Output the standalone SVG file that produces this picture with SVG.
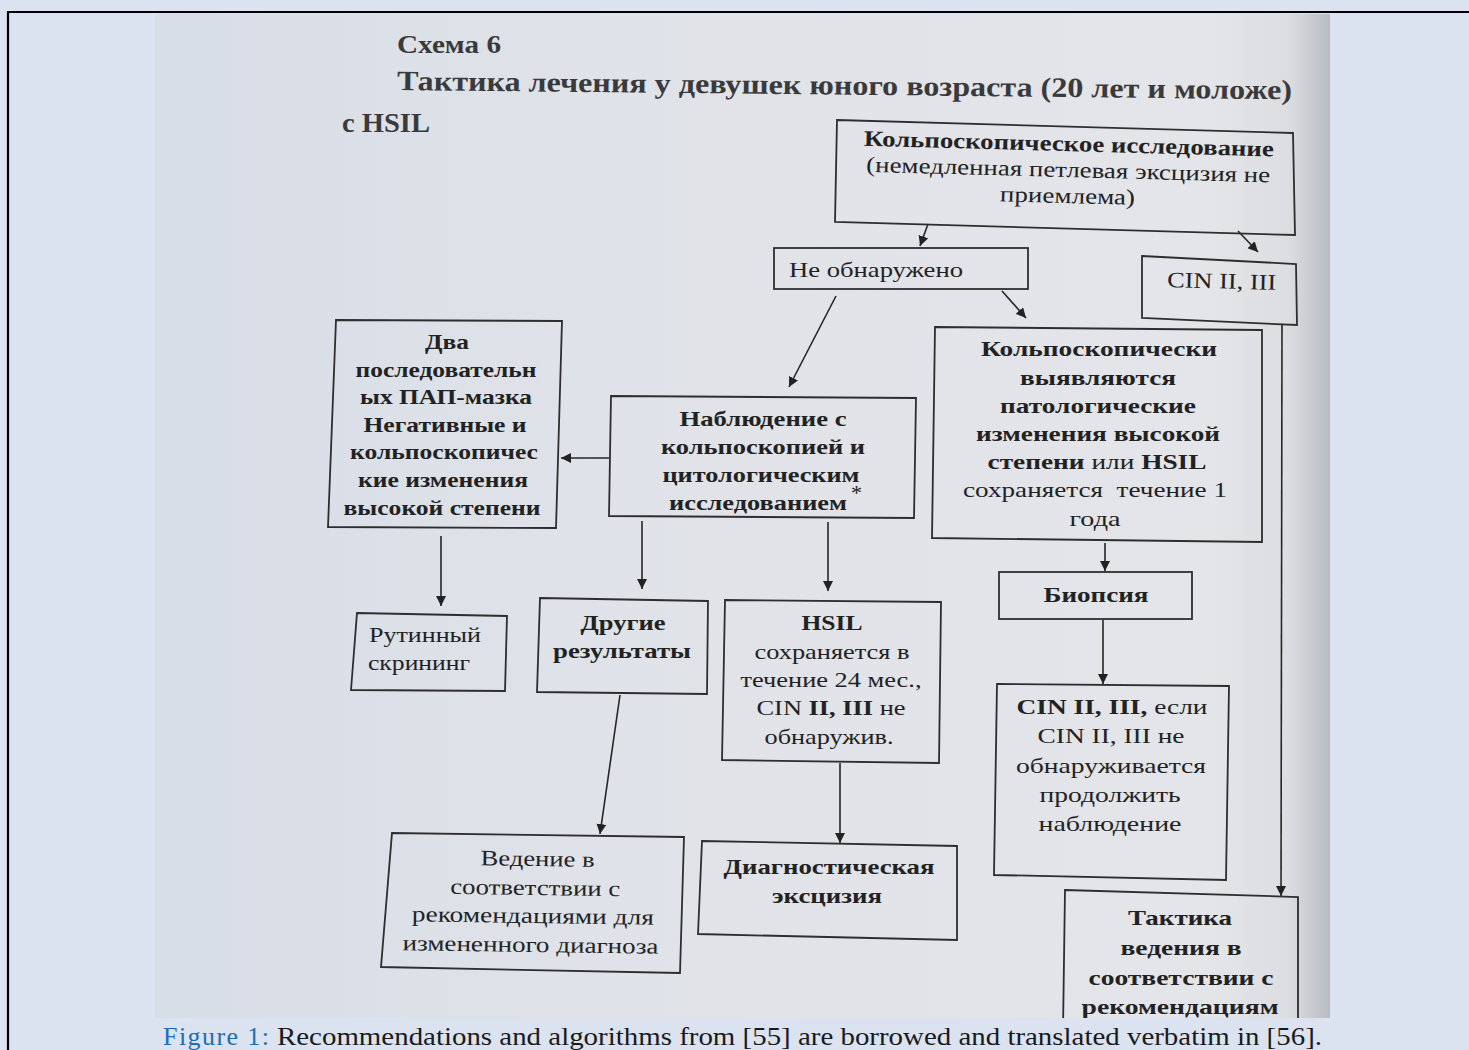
<svg xmlns="http://www.w3.org/2000/svg" width="1469" height="1050" viewBox="0 0 1469 1050">
<defs>
<linearGradient id="pg" x1="0" y1="0" x2="1" y2="0">
<stop offset="0" stop-color="#d7dde7"/>
<stop offset="0.35" stop-color="#dfe2e8"/>
<stop offset="0.9" stop-color="#e4e5e9"/>
<stop offset="0.965" stop-color="#dcdde1"/>
<stop offset="1" stop-color="#b9bcc3"/>
</linearGradient>
<clipPath id="pc"><rect x="155" y="14" width="1175" height="1004"/></clipPath>
<marker id="ah" viewBox="0 0 10 10" refX="10" refY="5" markerWidth="10" markerHeight="10" markerUnits="userSpaceOnUse" orient="auto">
<path d="M0,0 L10,5 L0,10 z" fill="#222"/>
</marker>
<style>
.bx{fill:none;stroke:#2e2e2e;stroke-width:1.8}
.cn{stroke:#262626;stroke-width:1.6;fill:none;marker-end:url(#ah)}
.t{font-family:"Liberation Serif","Times New Roman",serif;fill:#222;font-size:22px}
.b{font-weight:bold}
.c{text-anchor:middle}
.h{font-family:"Liberation Serif","Times New Roman",serif;fill:#3a3a3a;font-weight:bold}
</style>
</defs>
<rect width="1469" height="1050" fill="#dbe3f0"/>
<path d="M8,1050 L8,12 L1469,12" fill="none" stroke="#000" stroke-width="2.2"/>
<rect x="155" y="14" width="1175" height="1004" fill="url(#pg)"/>
<g clip-path="url(#pc)">
<text class="h" x="397" y="53" font-size="26" textLength="104" lengthAdjust="spacingAndGlyphs">Схема 6</text>
<text class="h" x="397" y="90" font-size="28" textLength="895" lengthAdjust="spacingAndGlyphs" transform="rotate(0.6 397 90)">Тактика лечения у девушек юного возраста (20 лет и моложе)</text>
<text class="h" x="342" y="132" font-size="27" textLength="88" lengthAdjust="spacingAndGlyphs">с HSIL</text>

<g id="connectors">
<line class="cn" x1="928" y1="224" x2="920" y2="246"/>
<line class="cn" x1="1238" y1="231" x2="1258" y2="252"/>
<line class="cn" x1="836" y1="296" x2="789" y2="387"/>
<line class="cn" x1="1002" y1="291" x2="1026" y2="318"/>
<line class="cn" x1="609" y1="458" x2="561" y2="458"/>
<line class="cn" x1="441" y1="536" x2="441" y2="606"/>
<line class="cn" x1="642" y1="521" x2="642" y2="589"/>
<line class="cn" x1="828" y1="522" x2="828" y2="591"/>
<line class="cn" x1="1105" y1="543" x2="1105" y2="571"/>
<line class="cn" x1="1103" y1="620" x2="1103" y2="684"/>
<line class="cn" x1="1282" y1="325" x2="1281" y2="896"/>
<line class="cn" x1="620" y1="695" x2="600" y2="834"/>
<line class="cn" x1="840" y1="763" x2="840" y2="843"/>
</g>

<g id="n-colposcopy">
<polygon class="bx" points="837,120 1293,133 1295,235 835,222"/>
<g transform="rotate(1.5 1066 178)">
<text class="t b c" x="1068" y="151" textLength="410" lengthAdjust="spacingAndGlyphs">Кольпоскопическое исследование</text>
<text class="t c" x="1068" y="177" textLength="404" lengthAdjust="spacingAndGlyphs">(немедленная петлевая эксцизия не</text>
<text class="t c" x="1068" y="203" textLength="135" lengthAdjust="spacingAndGlyphs">приемлема)</text>
</g>
</g>

<g id="n-not-found">
<rect class="bx" x="774" y="248" width="254" height="41"/>
<text class="t" x="789" y="277" textLength="174" lengthAdjust="spacingAndGlyphs">Не обнаружено</text>
</g>

<g id="n-cin">
<polygon class="bx" points="1142,256 1296,264 1297,325 1142,318"/>
<text class="t" x="1167" y="287" transform="rotate(1.5 1167 287)" textLength="109" lengthAdjust="spacingAndGlyphs">CIN II, III</text>
</g>

<g id="n-two-pap">
<polygon class="bx" points="336,320 562,321 556,528 328,527"/>
<text class="t b c" x="447" y="349" font-size="20" textLength="44" lengthAdjust="spacingAndGlyphs">Два</text>
<text class="t b c" x="446" y="377" font-size="20" textLength="181" lengthAdjust="spacingAndGlyphs">последовательн</text>
<text class="t b c" x="446" y="404" font-size="20" textLength="172" lengthAdjust="spacingAndGlyphs">ых ПАП-мазка</text>
<text class="t b c" x="445" y="432" font-size="20" textLength="163" lengthAdjust="spacingAndGlyphs">Негативные и</text>
<text class="t b c" x="444" y="459" font-size="20" textLength="188" lengthAdjust="spacingAndGlyphs">кольпоскопичес</text>
<text class="t b c" x="443" y="487" font-size="20" textLength="170" lengthAdjust="spacingAndGlyphs">кие изменения</text>
<text class="t b c" x="442" y="515" font-size="20" textLength="197" lengthAdjust="spacingAndGlyphs">высокой степени</text>
</g>

<g id="n-observation">
<polygon class="bx" points="611,396 916,398 914,518 609,516"/>
<text class="t b c" x="763" y="426" font-size="21" textLength="167" lengthAdjust="spacingAndGlyphs">Наблюдение с</text>
<text class="t b c" x="763" y="454" font-size="21" textLength="204" lengthAdjust="spacingAndGlyphs">кольпоскопией и</text>
<text class="t b c" x="761" y="482" font-size="21" textLength="197" lengthAdjust="spacingAndGlyphs">цитологическим</text>
<text class="t b c" x="758" y="510" font-size="21" textLength="178" lengthAdjust="spacingAndGlyphs">исследованием</text>
<text class="t" x="851" y="500" font-size="12">*</text>
</g>

<g id="n-colpo-high">
<polygon class="bx" points="935,327 1262,330 1262,542 932,538"/>
<text class="t b c" x="1099" y="356" textLength="236" lengthAdjust="spacingAndGlyphs">Кольпоскопически</text>
<text class="t b c" x="1098" y="385" textLength="156" lengthAdjust="spacingAndGlyphs">выявляются</text>
<text class="t b c" x="1098" y="413" textLength="196" lengthAdjust="spacingAndGlyphs">патологические</text>
<text class="t b c" x="1098" y="441" textLength="244" lengthAdjust="spacingAndGlyphs">изменения высокой</text>
<text class="t c" x="1097" y="469" textLength="219" lengthAdjust="spacingAndGlyphs"><tspan class="b">степени</tspan> или <tspan class="b">HSIL</tspan></text>
<text class="t c" x="1095" y="497" xml:space="preserve" textLength="264" lengthAdjust="spacingAndGlyphs">сохраняется  течение 1</text>
<text class="t c" x="1095" y="526" textLength="51" lengthAdjust="spacingAndGlyphs">года</text>
</g>

<g id="n-biopsy">
<rect class="bx" x="999" y="572" width="193" height="47"/>
<text class="t b c" x="1096" y="602" textLength="105" lengthAdjust="spacingAndGlyphs">Биопсия</text>
</g>

<g id="n-routine">
<polygon class="bx" points="357,613 507,616 505,691 351,690"/>
<text class="t" x="369" y="642" font-size="21" textLength="112" lengthAdjust="spacingAndGlyphs">Рутинный</text>
<text class="t" x="368" y="670" font-size="21" textLength="102" lengthAdjust="spacingAndGlyphs">скрининг</text>
</g>

<g id="n-other">
<polygon class="bx" points="540,598 708,601 707,694 537,692"/>
<text class="t b c" x="623" y="630" textLength="85" lengthAdjust="spacingAndGlyphs">Другие</text>
<text class="t b c" x="622" y="658" textLength="138" lengthAdjust="spacingAndGlyphs">результаты</text>
</g>

<g id="n-hsil">
<polygon class="bx" points="725,600 941,602 939,763 722,760"/>
<text class="t b c" x="832" y="630" textLength="61" lengthAdjust="spacingAndGlyphs">HSIL</text>
<text class="t c" x="832" y="659" textLength="155" lengthAdjust="spacingAndGlyphs">сохраняется в</text>
<text class="t c" x="831" y="687" textLength="181" lengthAdjust="spacingAndGlyphs">течение 24 мес.,</text>
<text class="t c" x="831" y="715" textLength="149" lengthAdjust="spacingAndGlyphs">CIN <tspan class="b">II, III</tspan> не</text>
<text class="t c" x="829" y="744" textLength="129" lengthAdjust="spacingAndGlyphs">обнаружив.</text>
</g>

<g id="n-cin-biopsy">
<polygon class="bx" points="997,684 1229,686 1226,880 994,875"/>
<text class="t c" x="1112" y="714" font-size="23" textLength="191" lengthAdjust="spacingAndGlyphs"><tspan class="b">CIN II, III,</tspan> если</text>
<text class="t c" x="1111" y="743" font-size="23" textLength="147" lengthAdjust="spacingAndGlyphs">CIN II, III не</text>
<text class="t c" x="1111" y="773" font-size="23" textLength="190" lengthAdjust="spacingAndGlyphs">обнаруживается</text>
<text class="t c" x="1110" y="802" font-size="23" textLength="141" lengthAdjust="spacingAndGlyphs">продолжить</text>
<text class="t c" x="1110" y="831" font-size="23" textLength="143" lengthAdjust="spacingAndGlyphs">наблюдение</text>
</g>

<g id="n-management">
<polygon class="bx" points="392,833 684,837 680,973 381,967"/>
<g transform="rotate(0.8 533 908)">
<text class="t c" x="537" y="866" font-size="21" textLength="114" lengthAdjust="spacingAndGlyphs">Ведение в</text>
<text class="t c" x="535" y="895" font-size="21" textLength="170" lengthAdjust="spacingAndGlyphs">соответствии с</text>
<text class="t c" x="533" y="923" font-size="21" textLength="242" lengthAdjust="spacingAndGlyphs">рекомендациями для</text>
<text class="t c" x="531" y="952" font-size="21" textLength="256" lengthAdjust="spacingAndGlyphs">измененного диагноза</text>
</g>
</g>

<g id="n-excision">
<polygon class="bx" points="702,841 957,846 957,940 698,934"/>
<text class="t b c" x="829" y="874" textLength="211" lengthAdjust="spacingAndGlyphs">Диагностическая</text>
<text class="t b c" x="827" y="903" textLength="110" lengthAdjust="spacingAndGlyphs">эксцизия</text>
</g>

<g id="n-tactics">
<polygon class="bx" points="1065,890 1298,897 1298,1030 1063,1030"/>
<text class="t b c" x="1180" y="925" textLength="104" lengthAdjust="spacingAndGlyphs">Тактика</text>
<text class="t b c" x="1181" y="955" textLength="121" lengthAdjust="spacingAndGlyphs">ведения в</text>
<text class="t b c" x="1181" y="985" textLength="185" lengthAdjust="spacingAndGlyphs">соответствии с</text>
<text class="t b c" x="1180" y="1014" textLength="197" lengthAdjust="spacingAndGlyphs">рекомендациям</text>
</g>
</g>

<text x="163" y="1045" font-family="Liberation Serif, serif" font-size="26"><tspan fill="#1f6db5" textLength="106">Figure 1:</tspan><tspan fill="#1a1a1a" x="277" textLength="1045" lengthAdjust="spacingAndGlyphs">Recommendations and algorithms from [55] are borrowed and translated verbatim in [56].</tspan></text>
</svg>
